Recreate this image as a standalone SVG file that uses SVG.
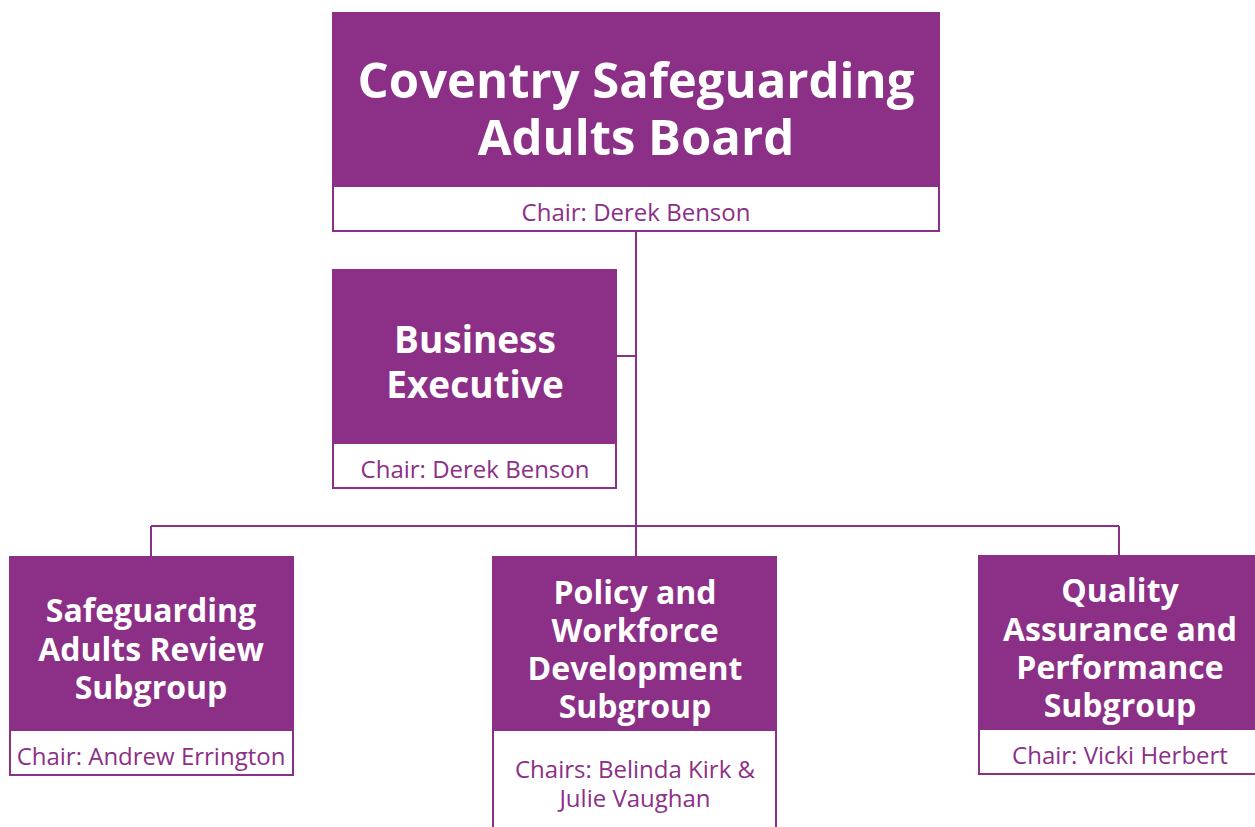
<svg xmlns="http://www.w3.org/2000/svg" width="1255" height="827" viewBox="0 0 1255 827">
<style>
.hd{fill:#8c2f87}
.ft{fill:#ffffff;stroke:#8c2f87;stroke-width:2}
.t{font-family:"Open Sans","Noto Sans",sans-serif;font-weight:700;fill:#ffffff;text-anchor:middle}
.c{font-family:"Open Sans","Noto Sans",sans-serif;font-weight:400;fill:#8c2f87;text-anchor:middle;font-size:24px}
.ln{stroke:#8c2f87;stroke-width:2;fill:none}
</style>
<rect width="1255" height="827" fill="#ffffff"/>
<g id="connectors">
<path class="ln" d="M636 231V556M617 356H636M151 526H1119M151 526V556M1119 526V556"/>
</g>
<g id="board">
<rect class="ft" x="333" y="13" width="606" height="218"/>
<rect class="hd" x="332" y="12" width="608" height="175"/>
<text class="t" x="636" y="98" font-size="49">Coventry Safeguarding</text>
<text class="t" x="636" y="155" font-size="49">Adults Board</text>
<text class="c" x="636" y="221">Chair: Derek Benson</text>
</g>
<g id="business">
<rect class="ft" x="333" y="270" width="283" height="218"/>
<rect class="hd" x="332" y="269" width="285" height="175"/>
<text class="t" x="475" y="353" font-size="37">Business</text>
<text class="t" x="475" y="398" font-size="37">Executive</text>
<text class="c" x="475" y="478">Chair: Derek Benson</text>
</g>
<g id="sar">
<rect class="ft" x="10" y="557" width="283" height="218"/>
<rect class="hd" x="9" y="556" width="285" height="175"/>
<text class="t" x="151" y="622" font-size="32">Safeguarding</text>
<text class="t" x="151" y="661" font-size="32">Adults Review</text>
<text class="t" x="151" y="699" font-size="32">Subgroup</text>
<text class="c" x="151" y="765">Chair: Andrew Errington</text>
</g>
<g id="policy">
<rect class="ft" x="493" y="557" width="283" height="280"/>
<rect class="hd" x="492" y="556" width="285" height="175"/>
<text class="t" x="635" y="604" font-size="32">Policy and</text>
<text class="t" x="635" y="642" font-size="32">Workforce</text>
<text class="t" x="635" y="680" font-size="32">Development</text>
<text class="t" x="635" y="718" font-size="32">Subgroup</text>
<text class="c" x="635" y="778">Chairs: Belinda Kirk &amp;</text>
<text class="c" x="635" y="807">Julie Vaughan</text>
</g>
<g id="quality">
<rect class="ft" x="979" y="556" width="285" height="218"/>
<rect class="hd" x="978" y="555" width="290" height="175"/>
<text class="t" x="1120" y="602" font-size="32">Quality</text>
<text class="t" x="1120" y="641" font-size="32">Assurance and</text>
<text class="t" x="1120" y="679" font-size="32">Performance</text>
<text class="t" x="1120" y="717" font-size="32">Subgroup</text>
<text class="c" x="1120" y="764">Chair: Vicki Herbert</text>
</g>
</svg>
